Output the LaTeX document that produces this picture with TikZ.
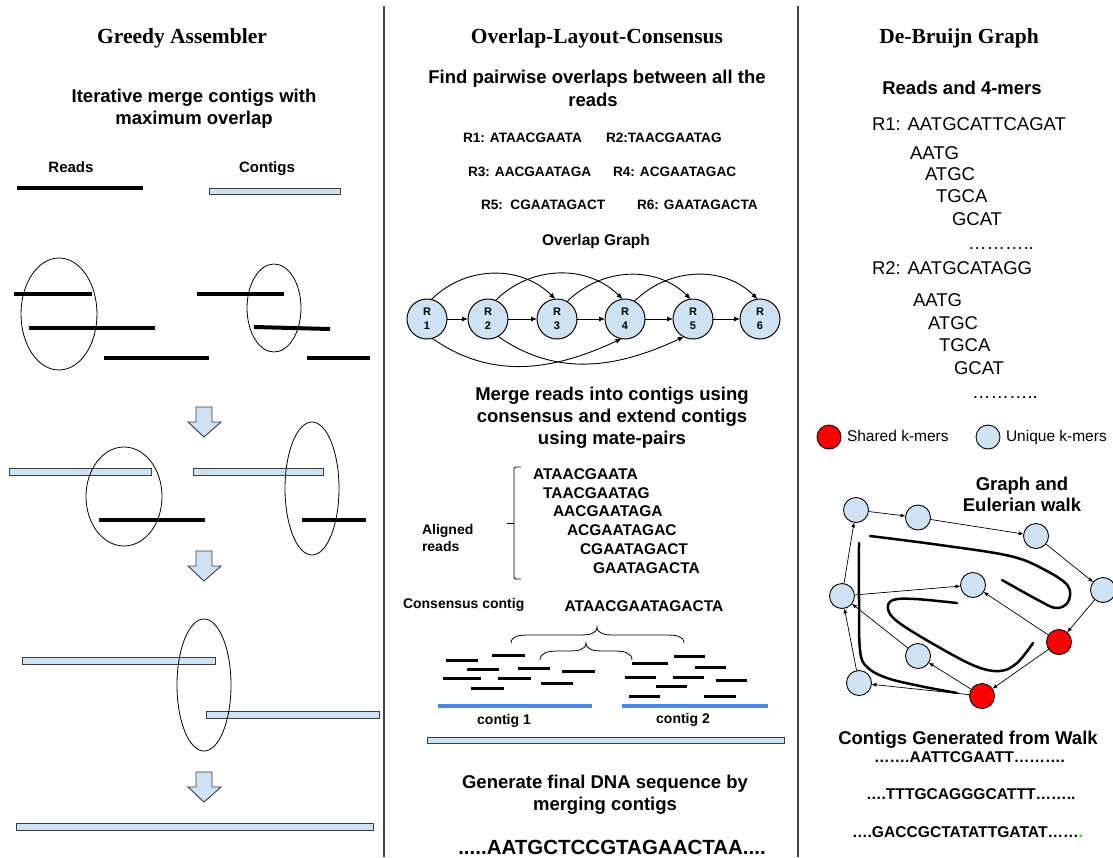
\documentclass[tikz,border=0pt]{standalone}
\usepackage{fontspec}
\setmainfont{Liberation Serif}
\newfontfamily\arial{Liberation Sans}
\usetikzlibrary{arrows.meta}
\definecolor{lb}{RGB}{207,226,243}
\definecolor{bord}{RGB}{60,60,60}
\definecolor{cblue}{RGB}{74,134,232}
\definecolor{divc}{RGB}{70,70,70}
\definecolor{sred}{RGB}{255,0,0}
\definecolor{dotgreen}{RGB}{0,220,0}
\begin{document}
\begin{tikzpicture}[x=1pt,y=1pt,
  every node/.style={inner sep=0pt, outer sep=0pt},
  title/.style={anchor=base, font=\fontsize{21.5}{24}\selectfont\bfseries},
  sub/.style={anchor=base, font=\arial\fontsize{18.5}{21}\selectfont\bfseries},
  lab/.style={anchor=base, font=\arial\fontsize{15}{17}\selectfont\bfseries},
  walklab/.style={anchor=base west, font=\arial\fontsize{15.6}{18}\selectfont\bfseries},
  rseq/.style={anchor=base west, font=\arial\fontsize{13.6}{16}\selectfont\bfseries},
  aseq/.style={anchor=base west, font=\arial\fontsize{15.5}{18}\selectfont\bfseries},
  smalllab/.style={anchor=base west, font=\arial\fontsize{14}{16}\selectfont\bfseries},
  kmer/.style={anchor=base west, font=\arial\fontsize{18.5}{21}\selectfont},
  leg/.style={anchor=base west, font=\arial\fontsize{15.5}{18}\selectfont},
  readline/.style={line width=4pt},
  shortread/.style={line width=3pt},
  bluecontig/.style={cblue, line width=3.5pt},
  contigbar/.style={draw=bord, fill=lb, line width=0.9pt},
  overl/.style={draw, line width=0.8pt},
  bigarrow/.style={draw=bord, fill=lb, line width=0.9pt},
  rnode/.style={circle, draw, fill=lb, minimum size=40pt, line width=1pt, align=center, font=\arial\fontsize{11}{14}\selectfont\bfseries},
  oedge/.style={-{Latex[length=6pt,width=5pt]}, line width=0.9pt},
  kn/.style={circle, draw, fill=lb, minimum size=25pt, line width=0.9pt},
  kred/.style={kn, fill=sred},
  kedge/.style={-{Latex[length=5pt,width=4pt]}, line width=0.7pt},
  walk/.style={line width=2.5pt, line cap=round},
]
\useasboundingbox (0,0) rectangle (1113,-857);
\fill[white] (0,0) rectangle (1113,-857);

% dividers
\draw[divc, line width=1.3pt] (384,-6) -- (384,-857);
\draw[divc, line width=1.3pt] (798,-6) -- (798,-857);

% ================= LEFT: Greedy =================
\node[title] (gt) at (182,-43) {Greedy Assembler};
\node[sub] (gs1) at (194,-102) {Iterative merge contigs with};
\node[sub] (gs2) at (194,-124) {maximum overlap};
\node[lab] (greads) at (71,-172) {Reads};
\node[lab] (gcont) at (267,-172) {Contigs};
\draw[readline] (17,-188) -- (143,-188);
\draw[contigbar] (209,-188) rectangle (340,-194);

% row 1
\draw[readline] (14,-294) -- (92,-294);
\draw[readline] (29,-328) -- (155,-328);
\draw[readline] (104,-358) -- (209,-358);
\draw[overl] (59,-314) ellipse [x radius=38, y radius=56];
\draw[readline] (197,-294) -- (284,-294);
\draw[readline] (254,-327) -- (330,-329);
\draw[readline] (307,-358) -- (370,-358);
\draw[overl] (274,-308) ellipse [x radius=27, y radius=44];

% arrow 1
\draw[bigarrow] (196,-407) -- (212,-407) -- (212,-422) -- (221,-422) -- (204,-437) -- (188,-422) -- (196,-422) -- cycle;

% row 2
\draw[contigbar] (9,-468) rectangle (151,-475);
\draw[contigbar] (193,-468) rectangle (323,-475);
\draw[readline] (99,-520) -- (205,-520);
\draw[readline] (302,-520) -- (366,-520);
\draw[overl] (124,-496.5) ellipse [x radius=38, y radius=49.5];
\draw[overl] (312,-488.5) ellipse [x radius=27, y radius=66.5];

% arrow 2
\draw[bigarrow] (196,-551) -- (212,-551) -- (212,-566) -- (221,-566) -- (204,-581) -- (188,-566) -- (196,-566) -- cycle;

% row 3
\draw[contigbar] (22,-657) rectangle (215,-664);
\draw[contigbar] (206,-711) rectangle (379,-718);
\draw[overl] (204,-685) ellipse [x radius=27, y radius=66];

% arrow 3
\draw[bigarrow] (196,-772) -- (212,-772) -- (212,-787) -- (221,-787) -- (204,-802) -- (188,-787) -- (196,-787) -- cycle;

\draw[contigbar] (16,-823) rectangle (373,-830);

% ================= MIDDLE: OLC =================
\node[title] (mt) at (597,-43) {Overlap-Layout-Consensus};
\node[sub] (ms1) at (597,-83) {Find pairwise overlaps between all the};
\node[sub] (ms2) at (593,-106) {reads};
\node[rseq] (r1s) at (463,-142) {R1: ATAACGAATA};
\node[rseq] (r2s) at (606,-142) {R2:TAACGAATAG};
\node[rseq] (r3s) at (468,-176) {R3: AACGAATAGA};
\node[rseq] (r4s) at (613,-176) {R4: ACGAATAGAC};
\node[rseq] (r5s) at (481,-209) {R5:\ \ CGAATAGACT};
\node[rseq] (r6s) at (637,-209) {R6: GAATAGACTA};
\node[lab, font=\arial\fontsize{15.5}{18}\selectfont\bfseries] (og) at (596,-245) {Overlap Graph};

\node[rnode] (R1) at (427,-319) {R\\1};
\node[rnode] (R2) at (488,-319) {R\\2};
\node[rnode] (R3) at (557,-319) {R\\3};
\node[rnode] (R4) at (625,-319) {R\\4};
\node[rnode] (R5) at (693,-319) {R\\5};
\node[rnode] (R6) at (760,-319) {R\\6};
\draw[oedge] (R1) -- (R2);
\draw[oedge] (R2) -- (R3);
\draw[oedge] (R3) -- (R4);
\draw[oedge] (R4) -- (R5);
\draw[oedge] (R5) -- (R6);
\draw[oedge] (R1.77) to[out=45,in=135] (R3.95);
\draw[oedge] (R2.68) to[out=45,in=135] (R4.97);
\draw[oedge] (R3.60) to[out=45,in=135] (R5.97);
\draw[oedge] (R4.62) to[out=45,in=135] (R6.97);
\draw[oedge] (R1.-75) to[out=-35,in=-155] (R4.-100);
\draw[oedge] (R2.-60) to[out=-35,in=-155] (R5.-117);

\node[sub] (mm1) at (612,-400) {Merge reads into contigs using};
\node[sub] (mm2) at (612,-422) {consensus and extend contigs};
\node[sub] (mm3) at (612,-444) {using mate-pairs};

\draw[line width=0.9pt, rounded corners=1.5pt] (521,-467) -- (514,-467) -- (514,-579) -- (521,-579);
\draw[line width=0.9pt] (514,-523) -- (507,-523);
\node[smalllab] (al1) at (422,-534) {Aligned};
\node[smalllab] (al2) at (422,-551) {reads};
\node[aseq] (a1) at (533,-479.5) {ATAACGAATA};
\node[aseq] (a2) at (543,-498.2) {TAACGAATAG};
\node[aseq] (a3) at (553,-516.9) {AACGAATAGA};
\node[aseq] (a4) at (567,-535.6) {ACGAATAGAC};
\node[aseq] (a5) at (580,-554.3) {CGAATAGACT};
\node[aseq] (a6) at (593,-573) {GAATAGACTA};

\node[smalllab] (cc) at (403,-608) {Consensus contig};
\node[aseq, anchor=base] (cseq) at (644,-611.5) {ATAACGAATAGACTA};

% braces
\draw[line width=0.8pt] (511,-643) to[out=90,in=180] (527,-635) -- (581,-635) to[out=0,in=-90] (597,-627) to[out=-90,in=180] (613,-635) -- (668,-635) to[out=0,in=90] (684,-643);
\draw[line width=0.8pt] (540,-660) to[out=90,in=180] (556,-651) -- (570,-651) to[out=0,in=-90] (586,-643) to[out=-90,in=180] (602,-651) -- (616,-651) to[out=0,in=90] (632,-660);

% short reads
\draw[shortread] (446,-660) -- (478,-660);
\draw[shortread] (492,-655) -- (525,-655);
\draw[shortread] (467,-669) -- (499,-669);
\draw[shortread] (518,-668) -- (550,-668);
\draw[shortread] (443,-678) -- (481,-678);
\draw[shortread] (498,-678) -- (531,-678);
\draw[shortread] (562,-671) -- (595,-671);
\draw[shortread] (471,-688) -- (504,-688);
\draw[shortread] (541,-683) -- (573,-683);
\draw[shortread] (632,-663) -- (668,-663);
\draw[shortread] (674,-656) -- (705,-656);
\draw[shortread] (695,-667) -- (726,-667);
\draw[shortread] (625,-677) -- (656,-677);
\draw[shortread] (673,-677) -- (704,-677);
\draw[shortread] (716,-680) -- (747,-680);
\draw[shortread] (656,-686) -- (687,-686);
\draw[shortread] (629,-696) -- (660,-696);
\draw[shortread] (704,-696) -- (736,-696);
\draw[bluecontig] (438,-706) -- (592,-706);
\draw[bluecontig] (622,-706) -- (768,-706);
\node[smalllab, anchor=base] (c1) at (504,-724) {contig 1};
\node[smalllab, anchor=base] (c2) at (683,-723) {contig 2};
\draw[contigbar] (427,-737) rectangle (784,-743);

\node[sub] (mg1) at (605,-788) {Generate final DNA sequence by};
\node[sub] (mg2) at (605,-810) {merging contigs};
\node[anchor=base, font=\arial\fontsize{20.5}{23}\selectfont\bfseries] (fin) at (612,-854) {.....AATGCTCCGTAGAACTAA....};

% ================= RIGHT: De Bruijn =================
\node[title] (rt) at (959,-43) {De-Bruijn Graph};
\node[sub] (rs) at (962,-94) {Reads and 4-mers};
\node[kmer] (k0) at (872,-130) {R1: AATGCATTCAGAT};
\node[kmer] (k1) at (910,-159) {AATG};
\node[kmer] (k2) at (925,-180) {ATGC};
\node[kmer] (k3) at (936,-202) {TGCA};
\node[kmer] (k4) at (952,-225) {GCAT};
\node[kmer] (k5) at (968,-249) {………..};
\node[kmer] (q0) at (872,-274) {R2: AATGCATAGG};
\node[kmer] (q1) at (913,-306) {AATG};
\node[kmer] (q2) at (928,-329) {ATGC};
\node[kmer] (q3) at (939,-351) {TGCA};
\node[kmer] (q4) at (954,-374) {GCAT};
\node[kmer] (q5) at (972,-398) {………..};

\node[circle, draw, fill=sred, minimum size=24pt, line width=0.9pt] (legS) at (829,-437) {};
\node[leg] (legSt) at (847,-441.5) {Shared k-mers};
\node[circle, draw, fill=lb, minimum size=24pt, line width=0.9pt] (legU) at (988,-437) {};
\node[leg] (legUt) at (1006,-441.5) {Unique k-mers};

\node[sub] (ge1) at (1022,-490) {Graph and};
\node[sub] (ge2) at (1022,-511) {Eulerian walk};

\node[kn] (d1) at (856,-510) {};
\node[kn] (d2) at (918,-517.5) {};
\node[kn] (d3) at (1036,-536) {};
\node[kn] (d4) at (1103,-590) {};
\node[kn] (d5) at (973,-585) {};
\node[kn] (d6) at (842,-596) {};
\node[kred] (d7) at (1059,-642) {};
\node[kn] (d8) at (918,-656) {};
\node[kn] (d9) at (859,-683) {};
\node[kred] (d10) at (982,-696) {};
\draw[kedge] (d1) -- (d2);
\draw[kedge] (d2) -- (d3);
\draw[kedge] (d3) -- (d4);
\draw[kedge] (d4) -- (d7);
\draw[kedge] (d7) -- (d5);
\draw[kedge] (d7) -- (d10);
\draw[kedge] (d10) -- (d8);
\draw[kedge] (d10) -- (d9);
\draw[kedge] (d8) -- (d6);
\draw[kedge] (d9) -- (d6);
\draw[kedge] (d6) -- (d1);
\draw[kedge] (d6) -- (d5);

% Eulerian walk strokes
\draw[walk] plot[smooth, tension=0.6] coordinates {(870,-536) (940,-545) (1010,-556) (1045,-570) (1068,-586) (1068,-602) (1056,-608) (1038,-600) (1002,-580)};
\draw[walk] plot[smooth, tension=0.6] coordinates {(957,-603) (915,-599) (893,-600) (888,-609) (898,-622) (935,-645) (975,-666) (1000,-671) (1017,-663) (1033,-643)};
\draw[walk] plot[smooth, tension=0.6] coordinates {(859,-543) (859,-600) (860,-650) (867,-667) (887,-678) (920,-686) (957,-693)};

\node[sub] (cg) at (968,-744) {Contigs Generated from Walk};
\node[walklab] (cg1) at (874,-762) {…….AATTCGAATT……….};
\node[walklab] (cg2) at (866,-799) {….TTTGCAGGGCATTT……..};
\node[walklab] (cg3) at (852,-837) {….GACCGCTATATTGATAT……\textcolor{dotgreen}{.}};
\end{tikzpicture}
\end{document}
